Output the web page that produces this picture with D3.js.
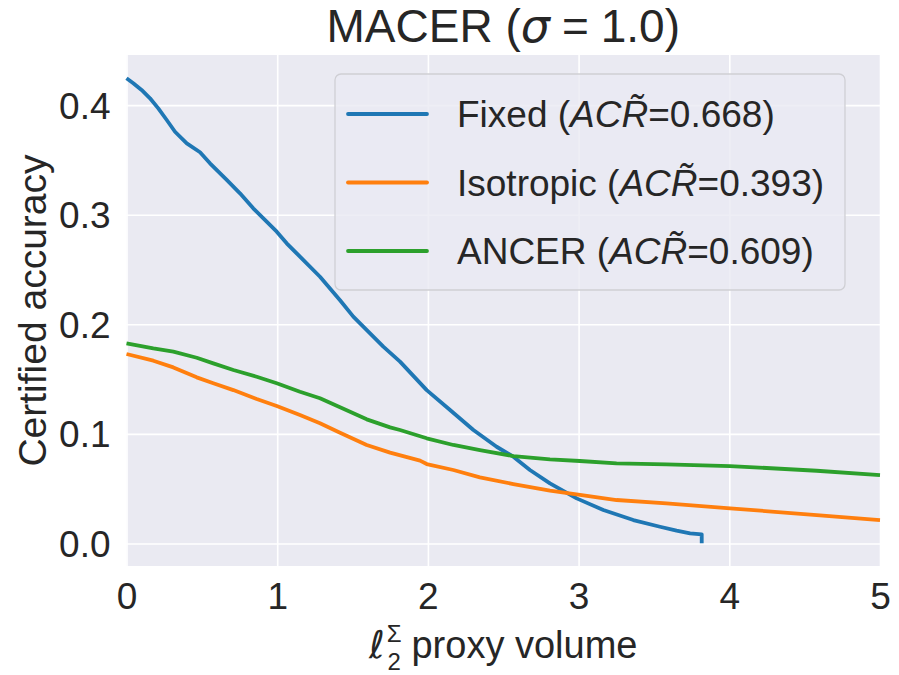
<!DOCTYPE html>
<html>
<head>
<meta charset="utf-8">
<script src="https://cdn.jsdelivr.net/npm/d3@7"></script>
<style>
  body { margin: 0; background: #fff; }
  text { font-family: "Liberation Sans", Arial, sans-serif; fill: #262626; }
</style>
</head>
<body>
<div id="wrapper"></div>
<script>
// values
const fixedX = [0, 0.045, 0.10, 0.156, 0.211, 0.267, 0.322, 0.40, 0.488, 0.554, 0.665, 0.753, 0.841, 0.930, 0.997, 1.063,
  1.151, 1.284, 1.417, 1.505, 1.704, 1.815, 1.992, 2.147, 2.302, 2.456, 2.567, 2.677, 2.81, 2.987, 3.164, 3.363,
  3.54, 3.65, 3.74, 3.817, 3.817];
const fixedY = [0.4245, 0.420, 0.4138, 0.4062, 0.397, 0.3864, 0.3757, 0.3651, 0.357, 0.3469, 0.3317, 0.3195, 0.3058, 0.2936, 0.2845, 0.2739,
  0.2617, 0.2434, 0.222, 0.207, 0.1796, 0.166, 0.140, 0.1218, 0.1036, 0.0883, 0.0792, 0.0671, 0.0549, 0.0412, 0.0306, 0.0214,
  0.0153, 0.0117, 0.0093, 0.0084, 0.0002];

const isoX = [0, 0.178, 0.311, 0.466, 0.576, 0.709, 0.864, 0.997, 1.151, 1.284, 1.417, 1.594, 1.749, 1.948,
  1.992, 2.169, 2.345, 2.567, 2.81, 3.009, 3.252, 3.583, 4.005, 4.58, 5];
const isoY = [0.1729, 0.1668, 0.1607, 0.1516, 0.1462, 0.140, 0.1318, 0.1255, 0.1172, 0.1097, 0.1011, 0.0899, 0.0829, 0.0756,
  0.0725, 0.0671, 0.0604, 0.0543, 0.0482, 0.0443, 0.0397, 0.0367, 0.0321, 0.026, 0.0214];

const ancerX = [0, 0.178, 0.311, 0.466, 0.576, 0.709, 0.864, 0.997, 1.151, 1.284, 1.417, 1.594, 1.749, 1.815,
  1.992, 2.169, 2.345, 2.567, 2.81, 3.009, 3.252, 3.583, 4.005, 4.58, 5];
const ancerY = [0.1827, 0.178, 0.175, 0.1695, 0.1644, 0.1583, 0.1522, 0.1462, 0.1385, 0.1325, 0.1243, 0.1133, 0.106, 0.1036,
  0.096, 0.0899, 0.0853, 0.0798, 0.0768, 0.0753, 0.0732, 0.0722, 0.0707, 0.0664, 0.0625];

const seriesNames = ["Fixed", "Isotropic", "ANCER"];
const seriesAcr = ["0.668", "0.393", "0.609"];
const seriesColors = ["#1f77b4", "#ff7f0e", "#2ca02c"];

const xTicks = [0, 1, 2, 3, 4, 5];
const yTicks = [0.0, 0.1, 0.2, 0.3, 0.4];

const width = 899;
const height = 675;
const margin = { top: 55, right: 19, bottom: 109, left: 126.5 };
const boundedWidth = width - margin.left - margin.right;
const boundedHeight = height - margin.top - margin.bottom;

const svg = d3.select("#wrapper")
  .append("svg")
  .attr("width", width)
  .attr("height", height);

const bounds = svg.append("g")
  .attr("transform", `translate(${margin.left},${margin.top})`);

const xScale = d3.scaleLinear()
  .domain([0, 5])
  .range([0, boundedWidth]);

const yScale = d3.scaleLinear()
  .domain([-0.0205, 0.4457])
  .range([boundedHeight, 0]);

bounds.append("rect")
  .attr("width", boundedWidth)
  .attr("height", boundedHeight)
  .attr("fill", "#eaeaf2");

// grid + tick labels
const xAxis = bounds.append("g")
  .call(d3.axisBottom(xScale).tickValues(xTicks).tickSize(boundedHeight).tickPadding(17).tickFormat(d3.format("d")));
xAxis.selectAll(".tick line").attr("y1", 0).attr("y2", boundedHeight);

const yAxis = bounds.append("g")
  .call(d3.axisLeft(yScale).tickValues(yTicks).tickSize(-boundedWidth).tickPadding(16).tickFormat(d3.format(".1f")));

[xAxis, yAxis].forEach(ax => {
  ax.select(".domain").remove();
  ax.selectAll(".tick line").attr("stroke", "#fff").attr("stroke-width", 1.6);
  ax.selectAll(".tick text")
    .attr("fill", "#262626")
    .style("font-size", "37px")
    .style("font-family", "'Liberation Sans', Arial, sans-serif");
});
xAxis.selectAll(".tick text").attr("y", boundedHeight + 17).attr("dy", "0.71em");
yAxis.selectAll(".tick text").attr("dy", "0.35em");

// lines
const lineGenerator = d3.line()
  .x(d => xScale(d[0]))
  .y(d => yScale(d[1]));

const series = [
  d3.zip(fixedX, fixedY),
  d3.zip(isoX, isoY),
  d3.zip(ancerX, ancerY),
];

bounds.append("g")
  .selectAll("path")
  .data(series)
  .join("path")
  .attr("d", lineGenerator)
  .attr("fill", "none")
  .attr("stroke", (d, i) => seriesColors[i])
  .attr("stroke-width", 3.8)
  .attr("stroke-linejoin", "round")
  .attr("stroke-linecap", "butt");

// legend
const legend = svg.append("g").attr("transform", "translate(335,74)");
legend.append("rect")
  .attr("width", 510)
  .attr("height", 216)
  .attr("rx", 6)
  .attr("fill", "#eaeaf2")
  .attr("fill-opacity", 0.8)
  .attr("stroke", "#cfcfd4")
  .attr("stroke-width", 1.3);

const rows = legend.selectAll(".row")
  .data(seriesNames)
  .join("g")
  .attr("class", "row")
  .attr("transform", (d, i) => `translate(0,${40 + i * 68.5})`);

rows.append("line")
  .attr("x1", 13).attr("x2", 92)
  .attr("stroke", (d, i) => seriesColors[i])
  .attr("stroke-width", 3.8)
  .attr("stroke-linecap", "round");

const labels = rows.append("text")
  .attr("x", 122)
  .attr("y", 13)
  .style("font-size", "37px");
labels.append("tspan").text(d => d + " (");
labels.append("tspan").style("font-style", "italic").text("ACR\u0303");
labels.append("tspan").text((d, i) => "=" + seriesAcr[i] + ")");

// title
const title = svg.append("text")
  .attr("x", margin.left + boundedWidth / 2)
  .attr("y", 42)
  .attr("text-anchor", "middle")
  .style("font-size", "46px")
  .attr("xml:space", "preserve");
title.append("tspan").text("MACER (");
title.append("tspan").style("font-style", "italic").style("font-family", "'DejaVu Sans', sans-serif").text("\u03c3");
title.append("tspan").attr("dx", 12).text("=");
title.append("tspan").attr("dx", 12).text("1.0)");

// axis labels
const xLabel = svg.append("text")
  .attr("x", margin.left + boundedWidth / 2)
  .attr("y", 658)
  .attr("text-anchor", "middle")
  .style("font-size", "38px");
xLabel.append("tspan").style("font-style", "italic").style("font-family", "'DejaVu Sans', sans-serif").text("\u2113");
xLabel.append("tspan").attr("dy", -16).attr("dx", 2).style("font-size", "24px").text("\u03a3");
xLabel.append("tspan").attr("dy", 28).attr("dx", -14).style("font-size", "24px").text("2");
xLabel.append("tspan").attr("dy", -12).text(" proxy volume");

svg.append("text")
  .attr("transform", `translate(46,${margin.top + boundedHeight / 2}) rotate(-90)`)
  .attr("text-anchor", "middle")
  .style("font-size", "39px")
  .text("Certified accuracy");
</script>
</body>
</html>
